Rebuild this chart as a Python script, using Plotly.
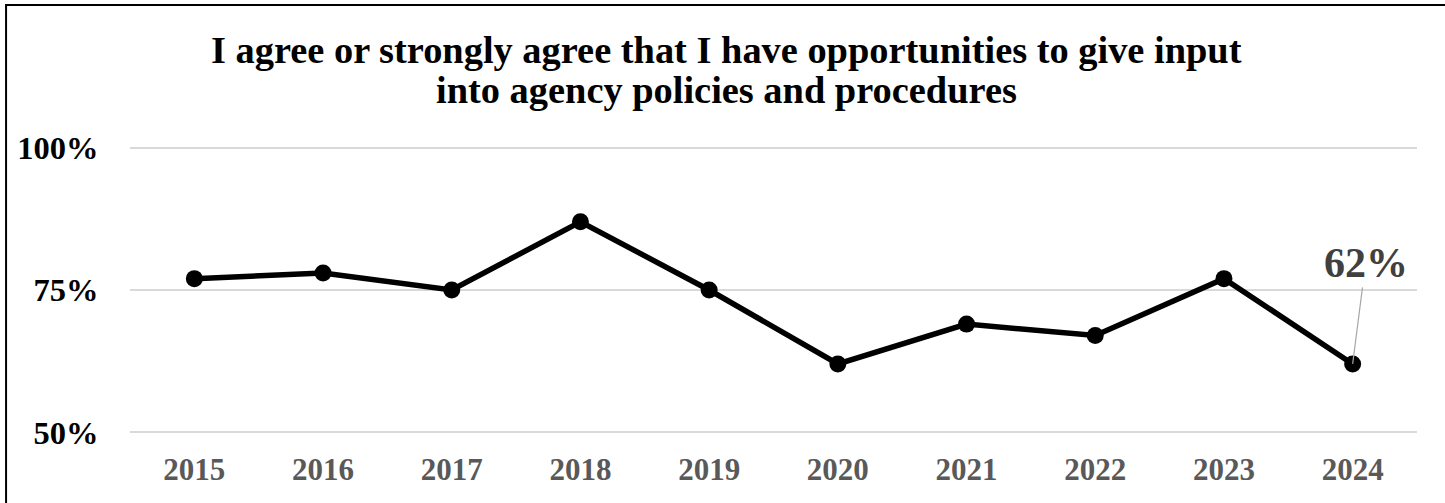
import plotly.graph_objects as go

years = [2015, 2016, 2017, 2018, 2019, 2020, 2021, 2022, 2023, 2024]
agree_pct = [77, 78, 75, 87, 75, 62, 69, 67, 77, 62]
y_ticks = [50, 75, 100]
y_tick_labels = ["50%", "75%", "100%"]

title_lines = [
    "I agree or strongly agree that I have opportunities to give input",
    "into agency policies and procedures",
]

SERIF = "Liberation Serif"

fig = go.Figure()
fig.add_trace(go.Scatter(
    x=years, y=agree_pct,
    mode="lines+markers",
    line=dict(color="black", width=5.5),
    marker=dict(color="black", size=17),
    cliponaxis=False,
    showlegend=False,
))

# callout on the latest value
fig.add_annotation(
    x=years[-1], y=agree_pct[-1],
    text=f"<b>{agree_pct[-1]}%</b>",
    showarrow=True, arrowhead=0, arrowwidth=1.2, arrowcolor="#A6A6A6",
    ax=13, ay=-101,
    font=dict(family=SERIF, size=42, color="#404040"),
)

# two-line title, set as separate lines for tight leading
for line, ypos in zip(title_lines, [1.326, 1.19]):
    fig.add_annotation(
        x=0.4635, xref="paper", y=ypos, yref="paper",
        xanchor="center", yanchor="middle",
        text=f"<b>{line}</b>", showarrow=False,
        font=dict(family=SERIF, size=38.4, color="black"),
    )

# outer frame
fig.add_shape(
    type="rect", xref="paper", yref="paper",
    x0=-0.0963, x1=1.2, y0=-1.0, y1=1.4828,
    line=dict(color="black", width=2), fillcolor="rgba(0,0,0,0)",
    layer="below",
)

fig.update_layout(
    width=1445, height=503,
    margin=dict(l=130, r=28, t=145, b=68),
    paper_bgcolor="white", plot_bgcolor="white",
    xaxis=dict(
        range=[years[0] - 0.5, years[-1] + 0.5],
        tickvals=years,
        ticktext=[f"<b>{y}</b>" for y in years],
        showgrid=False, zeroline=False, showline=False,
        tickfont=dict(family=SERIF, size=31, color="#595959"),
        ticks="outside", ticklen=7, tickcolor="rgba(0,0,0,0)",
    ),
    yaxis=dict(
        range=[49.5, 100.5],
        tickvals=y_ticks,
        ticktext=[f"<b>{t}</b>" for t in y_tick_labels],
        showgrid=True, gridcolor="#D9D9D9", gridwidth=1.5,
        zeroline=False, showline=False,
        tickfont=dict(family=SERIF, size=32.5, color="black"),
        ticks="outside", ticklen=24, tickcolor="rgba(0,0,0,0)",
    ),
)

fig.write_html("out.html")
